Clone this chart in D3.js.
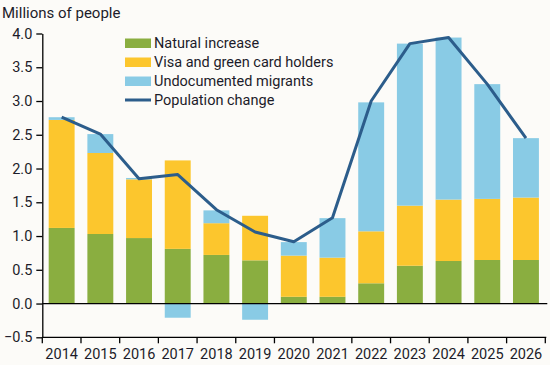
<!DOCTYPE html>
<html><head><meta charset="utf-8">
<script src="https://cdn.jsdelivr.net/npm/d3@7"></script>
<style>
html,body{margin:0;padding:0;background:#fcfbf8;}
svg{display:block;font-family:Roboto,"Noto Sans",sans-serif;}
</style></head>
<body><svg id="c" width="550" height="365"></svg>
<script>
const years = ["2014","2015","2016","2017","2018","2019","2020","2021","2022","2023","2024","2025","2026"];
const naturalIncrease = [1.12,1.03,0.97,0.81,0.72,0.64,0.10,0.10,0.30,0.56,0.63,0.645,0.645];
const visaGreenCard = [1.60,1.20,0.87,1.31,0.47,0.66,0.61,0.58,0.77,0.89,0.91,0.905,0.925];
const undocumented = [0.04,0.28,0.02,-0.21,0.19,-0.24,0.20,0.585,1.91,2.40,2.40,1.70,0.88];
const populationChange = [2.76,2.51,1.85,1.91,1.39,1.06,0.915,1.27,3.0,3.85,3.94,3.25,2.45];
const yTicks = [-0.5,0,0.5,1.0,1.5,2.0,2.5,3.0,3.5,4.0];
const seriesNames = ["Natural increase","Visa and green card holders","Undocumented migrants"];
const lineName = "Population change";
const colors = ["#8aae40","#fcc62d","#89cbe5"];
const lineColor = "#2c5d8b";
const textColor = "#1c1c2a";

const svg = d3.select("#c");
const mLeft = 42.3, mRight = 545.3, mTop = 33.5, mBottom = 337.3;
const x = d3.scaleBand().domain(years).range([mLeft, mRight]).paddingInner(0.33).paddingOuter(0.165);
const y = d3.scaleLinear().domain([-0.5, 4.0]).range([mBottom, mTop]);

const table = years.map((yr, i) => ({year: yr, n: naturalIncrease[i], v: visaGreenCard[i], u: undocumented[i]}));
const stack = d3.stack().keys(["n","v","u"]).offset(d3.stackOffsetDiverging);
const layers = stack(table);

svg.append("g").selectAll("g").data(layers).join("g")
  .attr("fill", (d, i) => colors[i])
  .selectAll("rect").data(d => d).join("rect")
  .attr("x", d => x(d.data.year))
  .attr("width", x.bandwidth())
  .attr("y", d => y(Math.max(d[0], d[1])))
  .attr("height", d => Math.abs(y(d[0]) - y(d[1])));

// zero line
svg.append("line").attr("x1", mLeft).attr("x2", mRight + 2).attr("y1", y(0)).attr("y2", y(0))
  .attr("stroke", "#000").attr("stroke-width", 1.3);

// population line
const line = d3.line().x((d, i) => x(years[i]) + x.bandwidth() / 2).y(d => y(d));
svg.append("path").datum(populationChange).attr("d", line)
  .attr("fill", "none").attr("stroke", lineColor).attr("stroke-width", 3).attr("stroke-linejoin", "round");

// y axis
const yAxis = svg.append("g").attr("transform", `translate(${mLeft},0)`)
  .call(d3.axisLeft(y).tickValues(yTicks).tickFormat(d3.format(".1f")).tickSize(6).tickSizeOuter(0));
yAxis.select(".domain").attr("stroke", "#000").attr("stroke-width", 1.3);
yAxis.selectAll(".tick line").attr("stroke", "#000").attr("stroke-width", 1.3);
yAxis.selectAll(".tick text").attr("x", -10).attr("fill", textColor).attr("font-size", 14.5)
  .attr("font-family", "Roboto");

// x axis at bottom
const xAxis = svg.append("g").attr("transform", `translate(0,${mBottom})`)
  .call(d3.axisBottom(x).tickSize(0).tickSizeOuter(0));
xAxis.select(".domain").attr("d", `M${mLeft},0H${mRight + 1}`).attr("stroke", "#000").attr("stroke-width", 1.3);
xAxis.selectAll(".tick text").attr("y", 11).attr("fill", textColor).attr("font-size", 14.5)
  .attr("font-family", "Roboto");
const bounds = d3.range(years.length + 1).map(i => mLeft + i * x.step());
xAxis.selectAll("line.bt").data(bounds).join("line").attr("class", "bt")
  .attr("x1", d => d).attr("x2", d => d).attr("y1", 0).attr("y2", 6)
  .attr("stroke", "#000").attr("stroke-width", 1.3);

// title
svg.append("text").attr("x", 2).attr("y", 18).text("Millions of people")
  .attr("fill", textColor).attr("font-size", 15);

// legend
const lg = svg.append("g").attr("transform", "translate(125,0)");
const labels = seriesNames.concat([lineName]);
labels.forEach((lab, i) => {
  const cy = 43 + i * 19;
  if (i < 3) {
    lg.append("rect").attr("x", 0).attr("y", cy - 4.5).attr("width", 26).attr("height", 9.5).attr("fill", colors[i]);
  } else {
    lg.append("line").attr("x1", 0).attr("x2", 26).attr("y1", cy).attr("y2", cy)
      .attr("stroke", lineColor).attr("stroke-width", 3);
  }
  lg.append("text").attr("x", 29).attr("y", cy).attr("dy", "0.36em").text(lab)
    .attr("fill", textColor).attr("font-size", 14.5);
});
</script>
</body></html>
